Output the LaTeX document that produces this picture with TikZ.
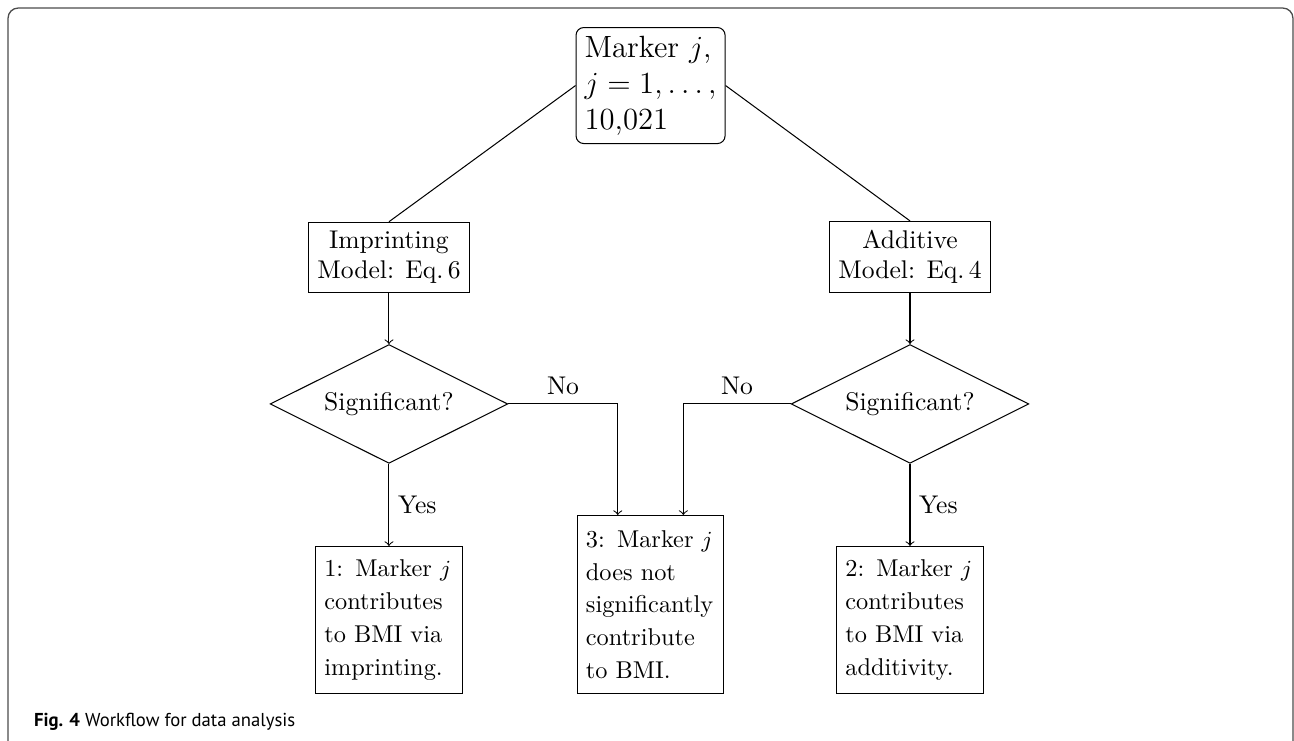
\documentclass[tikz,border=0pt]{standalone}
\usepackage{fontspec}
\newfontfamily\capfont{PT Sans}
\hyphenpenalty=10000
\usetikzlibrary{
	shapes.geometric,   % diamond
	arrows.meta
}
\tikzset{
	every picture/.style={
		>=to
}}
\tikzset{
	startbox/.style={draw,rounded corners=3pt,align=left,font=\large},
	modelbox/.style={draw,align=center},
	decision/.style={diamond,draw,aspect=2,inner sep=4pt},
	resultbox/.style={draw,text width=50.5pt,align=left,font=\fontsize{9.5}{12.8}\selectfont}
}

\begin{document}
\begin{tikzpicture}
\useasboundingbox (0,0) rectangle (17.762,-10.171);
% frame of the figure
\draw[black!70,line width=0.5pt,rounded corners=4pt] (0.11,-10.171) -- (0.11,-0.11) -- (17.748,-0.11) -- (17.748,-10.171);
\node[font=\capfont\fontsize{7.3}{9}\selectfont,anchor=west] (caption) at (0.343,-9.910) {\textbf{Fig. 4} Workflow for data analysis};

\node[startbox,anchor=north] (marker) at (8.93,-0.371) {Marker $j$,\\ $j=1,\ldots,$\\ 10,021};
\node[modelbox,anchor=south] (imprint) at (5.339,-4.022) {Imprinting\\ Model: Eq.\,6};
\node[modelbox,anchor=south] (additive) at (12.491,-4.022) {Additive\\ Model: Eq.\,4};
\node[decision] (sig1) at (5.339,-5.545) {Significant?};
\node[decision] (sig2) at (12.491,-5.545) {Significant?};
\node[resultbox,anchor=north,minimum height=2.018cm] (res1) at (5.339,-7.494) {1: Marker $j$\\ contributes\\ to BMI via\\ imprinting.};
\node[resultbox,anchor=north,minimum height=2.443cm] (res3) at (8.93,-7.069) {3: Marker $j$\\ does not\\ significantly\\ contribute\\ to BMI.};
\node[resultbox,anchor=north,minimum height=2.018cm] (res2) at (12.491,-7.494) {2: Marker $j$\\ contributes\\ to BMI via\\ additivity.};

\draw (marker.west) -- (imprint.north);
\draw (marker.east) -- (additive.north);
\draw[->] (imprint) -- (sig1);
\draw[->] (additive) -- (sig2);
\draw[->] (sig1) -- node[right] {Yes} (res1);
\draw[->] (sig2) -- node[right] {Yes} (res2);
\draw[->] (sig1.east) -| node[above,pos=0.25] {No} ([xshift=-4.5mm]res3.north);
\draw[->] (sig2.west) -| node[above,pos=0.25] {No} ([xshift=4.5mm]res3.north);
\end{tikzpicture}
\end{document}
